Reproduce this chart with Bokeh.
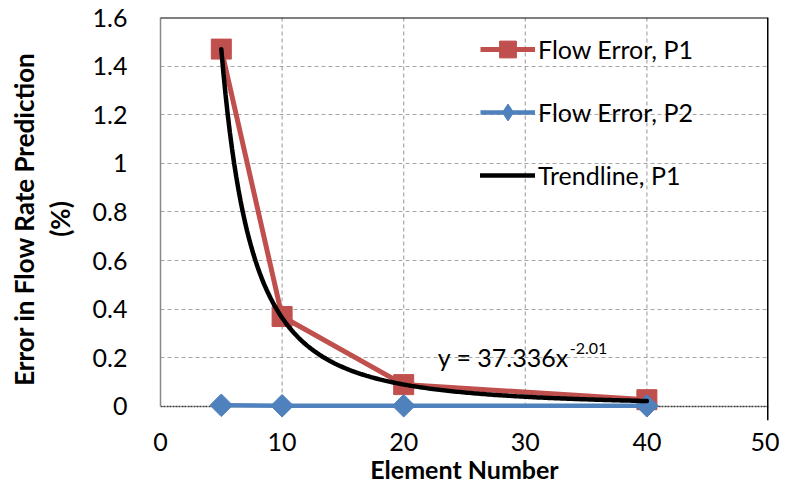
from bokeh.plotting import figure
from bokeh.models import Range1d, Span, Label, Legend, LegendItem, FixedTicker
from bokeh.embed import file_html
from bokeh.resources import INLINE
import numpy as np

# ---- data ----
elements = [5, 10, 20, 40]
flow_error_p1 = [1.47, 0.37, 0.09, 0.028]
flow_error_p2 = [0.005, 0.003, 0.003, 0.003]
# power-law trendline shown on the chart: y = 37.336 x^-2.01
trend_coef = 37.336
trend_exp = -2.01
trend_x = np.linspace(5, 40, 200)
trend_y = trend_coef * trend_x ** trend_exp

x_ticks = [0, 10, 20, 30, 40, 50]
y_ticks = [0, 0.2, 0.4, 0.6, 0.8, 1, 1.2, 1.4, 1.6]
y_tick_labels = {0: "0", 0.2: "0.2", 0.4: "0.4", 0.6: "0.6", 0.8: "0.8",
                 1: "1", 1.2: "1.2", 1.4: "1.4", 1.6: "1.6"}

RED = "#C0504D"
BLUE = "#4F81BD"
FONT = "Lato"
TXT = "25px"
TITLE = "26px"

p = figure(width=779, height=487, output_backend="svg", toolbar_location=None,
           x_range=Range1d(x_ticks[0], x_ticks[-1]),
           y_range=Range1d(-0.0576, y_ticks[-1]),
           min_border_left=160, min_border_right=11, min_border_top=17, min_border_bottom=67)
p.outline_line_color = None
p.background_fill_color = "white"
p.border_fill_color = "white"

# grids
p.xgrid.visible = False
p.ygrid.ticker = FixedTicker(ticks=y_ticks)
p.ygrid.grid_line_color = "#A6A6A6"
p.ygrid.grid_line_dash = "4 3"
p.ygrid.grid_line_width = 1.2
p.segment(x0=x_ticks[1:-1], y0=y_ticks[0], x1=x_ticks[1:-1], y1=y_ticks[-1],
          line_color="#A6A6A6", line_dash="4 3", line_width=1.2)

p.xaxis.ticker = FixedTicker(ticks=x_ticks)
p.yaxis.ticker = FixedTicker(ticks=y_ticks)
p.yaxis.major_label_overrides = y_tick_labels
for ax in (p.xaxis, p.yaxis):
    ax.major_tick_line_color = None
    ax.minor_tick_line_color = None
    ax.major_label_text_font = FONT
    ax.major_label_text_font_size = TXT
    ax.major_label_text_color = "black"
    ax.axis_label_text_font = FONT
    ax.axis_label_text_font_size = TITLE
    ax.axis_label_text_font_style = "bold"
    ax.axis_label_text_color = "black"

p.yaxis.bounds = (y_ticks[0], y_ticks[-1])
p.yaxis.axis_line_color = "#888888"
p.yaxis.axis_line_width = 1.5
p.yaxis.major_label_standoff = 27
p.yaxis.axis_label = "Error in Flow Rate Prediction\n(%)"
p.yaxis.axis_label_standoff = 14
p.yaxis.axis_label_text_line_height = 1.1

p.xaxis.axis_line_color = None
p.xaxis.major_label_standoff = 6
p.xaxis.axis_label = "Element Number"
p.xaxis.axis_label_text_font_size = "25px"
p.xaxis.axis_label_standoff = 0

# x-axis line at y = 0 (dotted)
p.segment(x0=[x_ticks[0]], y0=[0], x1=[x_ticks[-1]], y1=[0],
          line_color="#404040", line_dash="2 1", line_width=1.5)

p.add_layout(Span(location=y_ticks[-1], dimension="width", line_color="black", line_width=2))
p.add_layout(Span(location=x_ticks[-1], dimension="height", line_color="black", line_width=3))

r1_line = p.line(elements, flow_error_p1, line_color=RED, line_width=5)
r1_mark = p.scatter(elements, flow_error_p1, marker="square", size=20, fill_color=RED, line_color=RED)
r2_line = p.line(elements, flow_error_p2, line_color=BLUE, line_width=4.5)
# narrow diamond (used for the legend) hidden underneath the wider plotted diamonds
r2_leg = p.scatter(elements, flow_error_p2, marker="diamond", size=20, fill_color=BLUE, line_color=BLUE)
r2_mark = p.scatter(elements, flow_error_p2, marker="square", angle=np.pi / 4, size=16,
                    fill_color=BLUE, line_color=BLUE)
rt = p.line(trend_x, trend_y, line_color="black", line_width=4.5, line_cap="round")

legend = Legend(items=[
    LegendItem(label="Flow Error, P1", renderers=[r1_line, r1_mark]),
    LegendItem(label="Flow Error, P2", renderers=[r2_line, r2_leg]),
    LegendItem(label="Trendline, P1", renderers=[rt]),
], location=(320, 224), background_fill_alpha=0, border_line_color=None,
   padding=0, margin=0, spacing=21, glyph_width=55, glyph_height=42,
   label_height=25, label_standoff=3,
   label_text_font=FONT, label_text_font_size=TXT, label_text_color="black")
p.add_layout(legend)

p.add_layout(Label(x=22.8, y=0.2016, text="y = 37.336x", text_font=FONT, text_font_size=TXT,
                   text_baseline="middle", text_color="black"))
p.add_layout(Label(x=22.8, y=0.2386, x_offset=132, text="-2.01", text_font=FONT,
                   text_font_size="16px", text_baseline="middle", text_color="black"))

open("out.html", "w").write(file_html(p, INLINE))
